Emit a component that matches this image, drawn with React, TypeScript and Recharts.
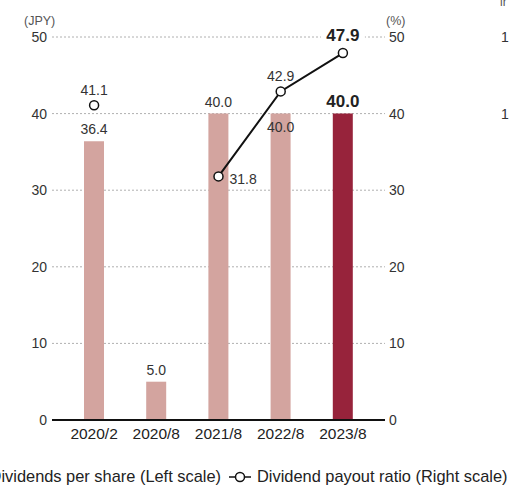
import React from 'react';
import {
  ComposedChart,
  Bar,
  Line,
  XAxis,
  YAxis,
  CartesianGrid,
  Cell,
  LabelList,
} from 'recharts';

// Dividends per share (JPY, left scale) and payout ratio (%, right scale)
const periods = ['2020/2', '2020/8', '2021/8', '2022/8', '2023/8'];
const dividends = [36.4, 5.0, 40.0, 40.0, 40.0];
const payoutRatio: Array<number | null> = [41.1, null, 31.8, 42.9, 47.9];
const axisTicks = [0, 10, 20, 30, 40, 50];

const data = periods.map((period, i) => ({
  period,
  dividend: dividends[i],
  ratio: payoutRatio[i],
}));

const FONT = '"Liberation Sans", Arial, Helvetica, sans-serif';
const BAR_COLOR = '#d3a49f';
const BAR_LATEST = '#97233b';
const TEXT = '#333';

const last = periods.length - 1;

function BarValueLabel(props: any) {
  const { x, y, width, value, index } = props;
  const cx = x + width / 2;
  if (index === last) {
    return (
      <text x={cx} y={y - 7} textAnchor="middle" fontFamily={FONT} fontSize={17} fontWeight="bold" fill="#222">
        {Number(value).toFixed(1)}
      </text>
    );
  }
  // 2022/8 label sits inside the bar so it does not clash with the ratio label
  const ty = index === 3 ? y + 18 : y - 7;
  return (
    <text x={cx} y={ty} textAnchor="middle" fontFamily={FONT} fontSize={14} fill={TEXT}>
      {Number(value).toFixed(1)}
    </text>
  );
}

function RatioLabel(props: any) {
  const { x, y, value, index } = props;
  if (value == null) return null;
  const txt = Number(value).toFixed(1);
  if (index === last) {
    return (
      <g>
        <rect x={x - 22} y={y - 33} width={44} height={20} fill="#fff" />
        <text x={x} y={y - 12} textAnchor="middle" fontFamily={FONT} fontSize={17} fontWeight="bold" fill="#222">
          {txt}
        </text>
      </g>
    );
  }
  if (index === 2) {
    return (
      <text x={x + 11} y={y + 8} textAnchor="start" fontFamily={FONT} fontSize={14} fill={TEXT}>
        {txt}
      </text>
    );
  }
  return (
    <text x={x} y={y - 10} textAnchor="middle" fontFamily={FONT} fontSize={14} fill={TEXT}>
      {txt}
    </text>
  );
}

export default function App() {
  const yTick = { fontSize: 14, fill: TEXT, fontFamily: FONT };
  const xTick = { fontSize: 15.5, fill: '#222', fontFamily: FONT };
  return (
    <div style={{ position: 'absolute', left: 0, top: 0, width: 509, height: 489, overflow: 'hidden', background: '#fff', fontFamily: FONT }}>
      <ComposedChart
        width={509}
        height={489}
        data={data}
        margin={{ top: 37, right: 64, bottom: 39, left: 0 }}
      >
        <CartesianGrid yAxisId="left" vertical={false} stroke="#b0b0b0" strokeDasharray="2 2" />
        <XAxis
          dataKey="period"
          height={30}
          padding={{ left: 11, right: 11 }}
          tickLine={false}
          tickSize={0}
          tickMargin={8}
          axisLine={{ stroke: '#111', strokeWidth: 2 }}
          tick={xTick}
        />
        <YAxis
          yAxisId="left"
          width={52}
          domain={[0, 50]}
          ticks={axisTicks}
          axisLine={false}
          tickLine={false}
          tickSize={0}
          tickMargin={5}
          tick={yTick}
        />
        <YAxis
          yAxisId="right"
          orientation="right"
          width={60}
          domain={[0, 50]}
          ticks={axisTicks}
          axisLine={false}
          tickLine={false}
          tickSize={0}
          tickMargin={4}
          tick={yTick}
        />
        <Bar yAxisId="left" dataKey="dividend" barSize={20} isAnimationActive={false}>
          {data.map((d, i) => (
            <Cell key={d.period} fill={i === last ? BAR_LATEST : BAR_COLOR} />
          ))}
          <LabelList dataKey="dividend" content={BarValueLabel} />
        </Bar>
        <Line
          yAxisId="right"
          dataKey="ratio"
          stroke="#111"
          strokeWidth={2}
          connectNulls={false}
          dot={{ r: 4.5, fill: '#fff', stroke: '#111', strokeWidth: 1.5 }}
          activeDot={false}
          isAnimationActive={false}
        >
          <LabelList dataKey="ratio" content={RatioLabel} />
        </Line>
      </ComposedChart>

      {/* axis unit captions */}
      <div style={{ position: 'absolute', left: 24, top: 14, fontSize: 12.5, color: '#555' }}>(JPY)</div>
      <div style={{ position: 'absolute', left: 386, top: 14, fontSize: 12.5, color: '#555' }}>(%)</div>

      {/* edge of the neighbouring panel */}
      <div style={{ position: 'absolute', left: 500, top: -5, fontSize: 12, color: '#555' }}>ir</div>
      <div style={{ position: 'absolute', left: 501, top: 29, fontSize: 14, color: TEXT }}>1</div>
      <div style={{ position: 'absolute', left: 501, top: 106, fontSize: 14, color: TEXT }}>1</div>

      {/* legend */}
      <div style={{ position: 'absolute', right: 288, top: 467, display: 'flex', alignItems: 'center', fontSize: 16.4, color: '#222', whiteSpace: 'nowrap' }}>
        <span style={{ display: 'inline-block', width: 14, height: 14, background: BAR_COLOR, marginRight: 6 }} />
        <span>Dividends per share (Left scale)</span>
      </div>
      <svg width={22} height={14} style={{ position: 'absolute', left: 229, top: 470 }}>
        <line x1={0} y1={7} x2={22} y2={7} stroke="#111" strokeWidth={1.5} />
        <circle cx={11} cy={7} r={4.5} fill="#fff" stroke="#111" strokeWidth={1.5} />
      </svg>
      <div style={{ position: 'absolute', left: 257, top: 467, fontSize: 16.4, color: '#222', whiteSpace: 'nowrap' }}>
        Dividend payout ratio (Right scale)
      </div>
    </div>
  );
}
